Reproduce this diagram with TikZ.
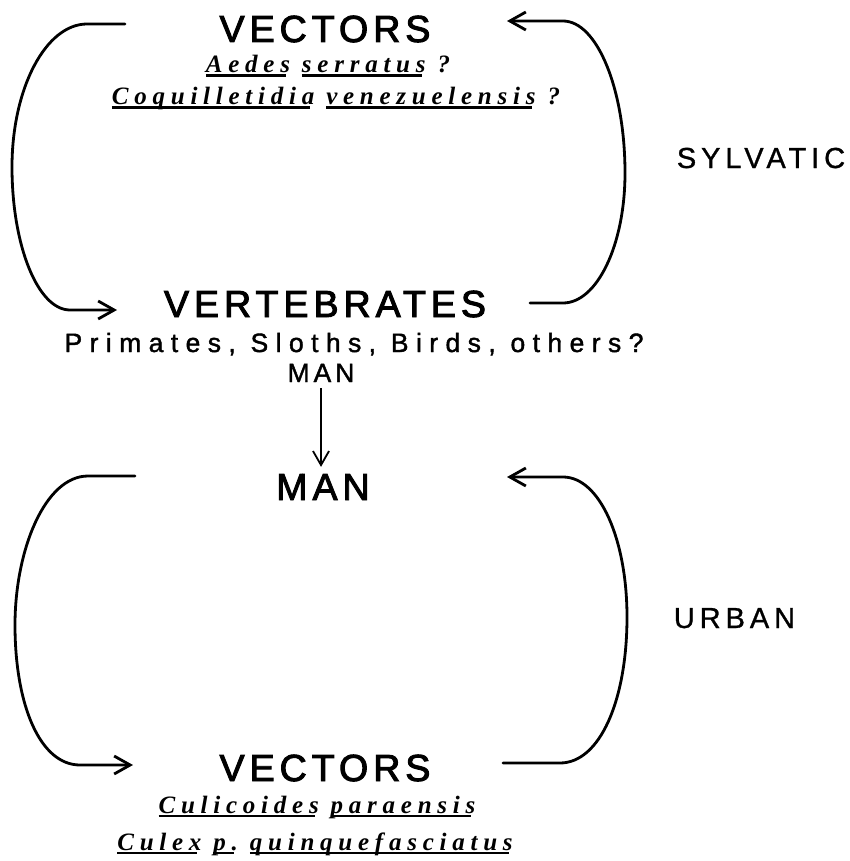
\documentclass[tikz,border=0pt]{standalone}
\usepackage{fontspec}
\setmainfont{Liberation Sans}
\newfontfamily\lsansbig[LetterSpace=13,FakeBold=2.5]{Liberation Sans}
\newfontfamily\lsansmid[LetterSpace=17,FakeBold=1]{Liberation Sans}
\newfontfamily\lsanssmall[LetterSpace=15,FakeBold=1.5]{Liberation Sans}
\newfontfamily\lsanswide[LetterSpace=28,FakeBold=1.5]{Liberation Sans}
\newfontfamily\lscript[LetterSpace=23]{Liberation Serif}
\usetikzlibrary{arrows.meta}
\newcommand\ulw[1]{\setbox0=\hbox{#1}\rlap{\rule[-4pt]{\dimexpr\wd0-4pt\relax}{2.5pt}}\box0\relax}
\begin{document}
\begin{tikzpicture}[x=1pt,y=-1pt,
  big/.style={font=\lsansbig\fontsize{37.7}{40}\selectfont, anchor=base, inner sep=0pt},
  mid/.style={font=\lsansmid\fontsize{29}{32}\selectfont, anchor=base, inner sep=0pt},
  small/.style={font=\lsanssmall\fontsize{26.5}{30}\selectfont, anchor=base, inner sep=0pt},
  wide/.style={font=\lsanswide\fontsize{26.5}{30}\selectfont, anchor=base, inner sep=0pt},
  sci/.style={font=\lscript\bfseries\itshape\fontsize{25}{28}\selectfont, anchor=base, inner sep=0pt},
  loopline/.style={line width=2.8pt, line cap=round},
  tip/.style={-{Straight Barb[length=16pt,width=18pt]}}]
\useasboundingbox (0,0) rectangle (850,861);

\node[big] (vtop) at (325,42) {VECTORS};
\node[sci] (aedes) at (328,73) {\ulw{Aedes} \ulw{serratus} ?};
\node[sci] (coq) at (336,105) {\ulw{Coquilletidia} \ulw{venezuelensis} ?};
\node[mid] (sylv) at (761,168) {SYLVATIC};
\node[big] (vert) at (325,317) {VERTEBRATES};
\node[wide] (prim) at (354,352) {Primates, Sloths, Birds, others?};
\node[small] (mans) at (321,382) {MAN};
\node[big] (manb) at (323,500) {MAN};
\node[mid] (urban) at (734.5,628) {URBAN};
\node[big] (vbot) at (325,781) {VECTORS};
\node[sci] (culi) at (317,813) {\ulw{Culicoides} \ulw{paraensis}};
\node[sci] (culex) at (315,850) {\ulw{Culex} \ulw{p.} \ulw{quinquefasciatus}};

% sylvatic cycle
\coordinate (tlA) at (125,24);
\coordinate (tlB) at (117,310);
\coordinate (trA) at (530,303);
\coordinate (trB) at (507,21);
\draw[loopline, tip] (tlA) -- (87,24) .. controls (46,24) and (12,88) .. (12,167)
  .. controls (12,246) and (38,310) .. (70,310) -- (tlB);
\draw[loopline, tip] (trA) -- (563,303) .. controls (597,303) and (625,245) .. (625,173)
  .. controls (625,89) and (597,21) .. (563,21) -- (trB);

% link
\draw[line width=1.8pt, -{Straight Barb[length=14pt,width=16pt]}, shorten <=6pt, shorten >=7pt]
  (mans.south) -- (mans.south |- manb.north);

% urban cycle
\coordinate (blA) at (135,476);
\coordinate (blB) at (133,765);
\coordinate (brA) at (503,763);
\coordinate (brB) at (507,477);
\draw[loopline, tip] (blA) -- (88,476) .. controls (45,476) and (15,550) .. (15,625)
  .. controls (15,705) and (40,765) .. (80,765) -- (blB);
\draw[loopline, tip] (brA) -- (560,763) .. controls (600,763) and (627,700) .. (627,617)
  .. controls (627,540) and (600,477) .. (563,477) -- (brB);
\end{tikzpicture}
\end{document}
